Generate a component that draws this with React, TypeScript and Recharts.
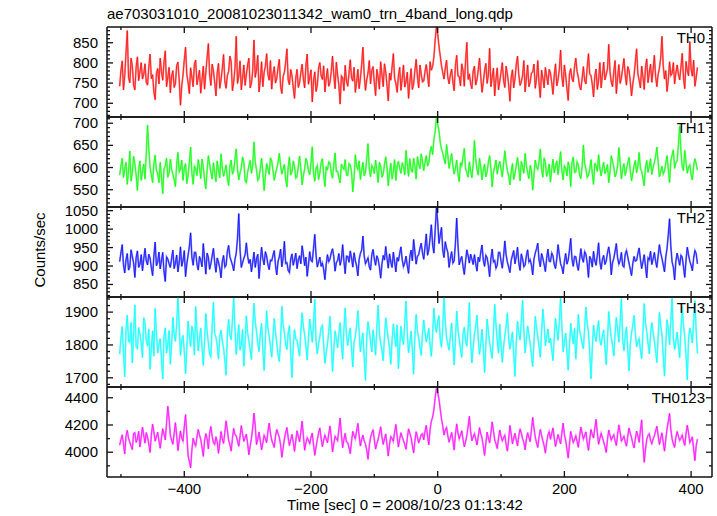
import React from 'react'
import { LineChart, Line, XAxis, YAxis } from 'recharts'

// light curve bins: 2 s each, first bin at -502 s
const T_START = -502
const T_BIN = 2

const th0 = [
  742, 781, 805, 733, 768, 826, 880, 764, 751, 812, 792, 745, 733, 790, 815, 756, 778, 801, 760, 772,
  798, 752, 745, 790, 822, 761, 771, 728, 709, 774, 786, 748, 812, 779, 757, 803, 830, 741, 764, 789,
  726, 768, 781, 739, 748, 794, 802, 757, 695, 743, 770, 808, 839, 771, 752, 724, 788, 765, 741, 798,
  807, 746, 763, 782, 725, 759, 792, 735, 776, 813, 848, 770, 744, 797, 781, 752, 718, 776, 799, 737,
  758, 786, 821, 754, 737, 769, 779, 817, 803, 731, 752, 788, 866, 749, 767, 805, 733, 762, 795, 744,
  771, 795, 812, 738, 749, 780, 857, 764, 784, 819, 728, 757, 803, 741, 776, 792, 823, 771, 757, 806,
  735, 772, 791, 750, 762, 788, 809, 741, 724, 766, 777, 801, 835, 758, 746, 784, 769, 738, 712, 763,
  784, 739, 751, 776, 797, 760, 738, 794, 822, 747, 764, 783, 703, 755, 778, 729, 745, 787, 801, 768,
  759, 793, 728, 761, 786, 742, 752, 779, 817, 770, 736, 802, 771, 745, 698, 768, 763, 731, 794, 756,
  742, 774, 808, 763, 755, 789, 727, 752, 784, 736, 761, 796, 839, 770, 732, 758, 775, 806, 748, 781,
  791, 750, 719, 784, 764, 735, 803, 771, 741, 798, 778, 744, 706, 775, 757, 790, 823, 762, 749, 727,
  768, 789, 732, 761, 795, 740, 754, 777, 712, 752, 786, 734, 747, 781, 809, 766, 738, 795, 772, 753,
  755, 779, 796, 768, 741, 803, 782, 791, 814, 857, 889, 872, 842, 818, 793, 776, 760, 788, 807, 764,
  748, 771, 785, 752, 731, 794, 819, 768, 766, 743, 798, 781, 742, 805, 851, 759, 773, 748, 736, 780,
  792, 745, 758, 783, 812, 766, 727, 752, 781, 799, 749, 770, 836, 741, 764, 787, 718, 760, 788, 733,
  754, 778, 801, 757, 739, 792, 772, 746, 705, 763, 783, 738, 760, 796, 817, 771, 744, 753, 769, 806,
  728, 763, 795, 741, 752, 775, 778, 797, 737, 760, 806, 749, 714, 782, 763, 738, 789, 767, 746, 784,
  775, 751, 722, 769, 798, 743, 758, 784, 832, 766, 741, 795, 770, 736, 707, 772, 786, 761, 753, 790,
  812, 779, 764, 741, 733, 762, 791, 756, 748, 788, 823, 772, 769, 747, 716, 768, 785, 734, 757, 801,
  738, 769, 802, 758, 771, 785, 846, 779, 752, 741, 779, 806, 724, 763, 796, 749, 763, 787, 811, 770,
  745, 791, 782, 754, 718, 748, 769, 803, 835, 773, 757, 738, 792, 766, 734, 789, 810, 751, 776, 797,
  752, 783, 819, 766, 741, 772, 787, 812, 866, 794, 760, 781, 729, 757, 803, 769, 774, 801, 748, 775,
  795, 771, 758, 790, 824, 762, 736, 804, 781, 768, 853, 785, 767, 807, 742, 763, 789,
]

const th1 = [
  583, 604, 621, 577, 598, 612, 562, 591, 637, 569, 589, 625, 608, 583, 548, 597, 615, 571, 592, 608,
  574, 631, 696, 642, 601, 583, 566, 609, 628, 594, 587, 566, 612, 578, 541, 598, 603, 621, 578, 587,
  619, 596, 585, 573, 557, 608, 634, 590, 596, 617, 571, 599, 609, 564, 583, 612, 646, 587, 562, 603,
  597, 582, 618, 600, 575, 619, 603, 571, 552, 594, 627, 608, 589, 574, 611, 589, 568, 615, 594, 577,
  631, 601, 580, 592, 606, 576, 559, 604, 617, 585, 593, 619, 642, 597, 572, 588, 599, 624, 613, 570,
  566, 589, 604, 616, 587, 603, 658, 612, 595, 571, 576, 598, 621, 590, 548, 579, 609, 596, 584, 622,
  615, 593, 571, 586, 598, 611, 632, 605, 585, 597, 607, 574, 556, 601, 624, 583, 590, 615, 602, 576,
  579, 603, 626, 598, 561, 582, 597, 621, 613, 592, 584, 610, 647, 588, 569, 599, 605, 573, 588, 611,
  620, 584, 557, 602, 594, 613, 611, 587, 576, 606, 633, 591, 592, 577, 565, 608, 601, 596, 618, 583,
  582, 609, 606, 590, 545, 577, 629, 603, 596, 615, 573, 594, 612, 581, 588, 620, 654, 597, 579, 605,
  599, 586, 617, 595, 566, 612, 603, 578, 585, 607, 624, 600, 559, 589, 610, 574, 592, 618, 571, 603,
  614, 598, 587, 611, 602, 583, 639, 606, 580, 620, 596, 589, 621, 604, 574, 625, 608, 597, 631, 614,
  593, 612, 627, 603, 611, 636, 648, 629, 663, 681, 712, 698, 684, 657, 641, 633, 619, 608, 652, 627,
  598, 615, 632, 604, 585, 599, 617, 586, 568, 611, 604, 624, 643, 597, 589, 578, 613, 592, 577, 606,
  661, 620, 596, 583, 621, 601, 572, 594, 608, 579, 590, 612, 627, 598, 556, 589, 602, 617, 585, 603,
  614, 597, 579, 608, 638, 611, 594, 582, 561, 590, 609, 573, 586, 605, 623, 599, 570, 614, 601, 587,
  632, 604, 588, 575, 605, 593, 549, 584, 617, 601, 596, 613, 642, 596, 578, 622, 611, 580, 591, 608,
  567, 596, 619, 588, 603, 615, 584, 607, 636, 593, 572, 604, 598, 581, 613, 600, 557, 611, 624, 589,
  590, 613, 606, 583, 575, 602, 651, 609, 597, 578, 583, 596, 618, 587, 562, 610, 604, 591, 629, 599,
  581, 598, 612, 586, 594, 607, 566, 590, 627, 614, 601, 579, 587, 603, 645, 611, 574, 596, 609, 582,
  596, 610, 623, 594, 570, 587, 605, 616, 588, 603, 634, 598, 591, 575, 559, 601, 616, 589, 602, 620,
  584, 600, 611, 625, 646, 612, 579, 590, 603, 585, 592, 609, 627, 597, 566, 614, 628, 640, 598, 611,
  615, 652, 694, 637, 601, 593, 639, 612, 587, 601, 606, 584, 572, 603, 620, 609, 594,
]

const th2 = [
  912, 936, 958, 903, 881, 917, 934, 889, 897, 944, 926, 908, 869, 923, 941, 896, 905, 931, 887, 918,
  948, 914, 903, 932, 921, 895, 874, 927, 965, 901, 910, 938, 892, 915, 937, 884, 858, 925, 919, 906,
  896, 921, 943, 893, 908, 930, 884, 911, 952, 899, 915, 942, 871, 906, 929, 953, 990, 924, 902, 937,
  937, 905, 889, 926, 916, 898, 961, 919, 878, 935, 924, 891, 906, 928, 948, 910, 883, 922, 911, 894,
  868, 913, 929, 897, 902, 940, 956, 925, 914, 903, 887, 918, 935, 976, 1042, 944, 896, 909, 921, 931,
  963, 927, 907, 918, 884, 909, 938, 896, 919, 932, 866, 912, 951, 920, 903, 939, 927, 904, 890, 916,
  914, 929, 942, 901, 876, 913, 925, 946, 898, 921, 967, 907, 909, 888, 882, 919, 933, 902, 917, 935,
  893, 917, 928, 906, 955, 931, 901, 924, 872, 903, 939, 915, 912, 948, 986, 929, 897, 911, 924, 899,
  908, 891, 863, 904, 931, 912, 919, 936, 947, 925, 886, 909, 915, 934, 902, 918, 958, 913, 879, 927,
  926, 910, 941, 922, 897, 936, 915, 900, 873, 918, 934, 943, 981, 927, 906, 914, 922, 898, 889, 931,
  945, 919, 902, 928, 918, 897, 867, 905, 929, 916, 953, 921, 894, 933, 911, 896, 938, 912, 884, 923,
  913, 934, 952, 917, 898, 908, 927, 901, 880, 925, 943, 914, 972, 939, 905, 926, 931, 948, 962, 935,
  918, 952, 987, 929, 944, 976, 1012, 958, 935, 996, 1058, 1021, 961, 983, 1005, 942, 923, 966, 948, 937,
  896, 921, 939, 908, 914, 962, 1030, 957, 903, 917, 926, 899, 877, 913, 944, 928, 908, 932, 919, 904,
  931, 907, 886, 924, 912, 938, 957, 916, 899, 929, 923, 901, 871, 920, 946, 911, 915, 894, 902, 937,
  937, 913, 894, 926, 968, 930, 911, 897, 882, 915, 929, 942, 906, 925, 951, 909, 888, 933, 920, 898,
  903, 928, 944, 911, 917, 902, 876, 919, 935, 947, 962, 916, 898, 934, 921, 904, 885, 921, 946, 913,
  912, 935, 927, 904, 893, 920, 958, 931, 906, 897, 879, 912, 934, 905, 916, 943, 975, 918, 899, 926,
  925, 903, 888, 917, 947, 921, 910, 939, 932, 908, 869, 926, 918, 897, 940, 914, 902, 930, 963, 911,
  891, 918, 929, 904, 913, 936, 952, 927, 876, 909, 921, 940, 961, 922, 905, 915, 937, 901, 897, 932,
  942, 925, 908, 891, 874, 907, 926, 913, 915, 934, 949, 918, 893, 911, 931, 899, 868, 922, 917, 940,
  904, 919, 937, 912, 896, 928, 958, 935, 921, 903, 884, 924, 947, 985, 1028, 954, 911, 897, 862, 914,
  935, 918, 902, 929, 924, 897, 869, 916, 951, 930, 913, 902, 887, 921, 942, 934, 906,
]

const th3 = [
  1772, 1821, 1856, 1778, 1703, 1847, 1891, 1812, 1808, 1869, 1745, 1836, 1922, 1794, 1789, 1853, 1834, 1806, 1761, 1883,
  1868, 1814, 1797, 1849, 1726, 1792, 1843, 1766, 1911, 1838, 1775, 1801, 1819, 1757, 1696, 1827, 1852, 1775, 1802, 1844,
  1741, 1803, 1884, 1832, 1811, 1864, 1946, 1858, 1768, 1815, 1829, 1781, 1712, 1790, 1873, 1826, 1795, 1857, 1838, 1769,
  1917, 1845, 1782, 1820, 1851, 1793, 1738, 1809, 1896, 1842, 1806, 1771, 1764, 1860, 1931, 1835, 1823, 1798, 1757, 1826,
  1845, 1812, 1790, 1753, 1708, 1834, 1878, 1829, 1816, 1876, 1943, 1851, 1771, 1818, 1862, 1784, 1799, 1847, 1735, 1808,
  1889, 1837, 1812, 1785, 1756, 1853, 1927, 1870, 1841, 1806, 1780, 1832, 1866, 1789, 1722, 1818, 1904, 1852, 1827, 1796,
  1763, 1824, 1881, 1840, 1804, 1771, 1749, 1816, 1918, 1861, 1836, 1803, 1786, 1835, 1859, 1774, 1701, 1798, 1847, 1817,
  1815, 1790, 1766, 1843, 1898, 1856, 1831, 1797, 1754, 1822, 1879, 1846, 1808, 1867, 1939, 1810, 1773, 1804, 1825, 1853,
  1860, 1801, 1744, 1776, 1802, 1839, 1887, 1813, 1719, 1785, 1843, 1820, 1791, 1834, 1868, 1806, 1757, 1848, 1913, 1829,
  1798, 1830, 1852, 1788, 1733, 1809, 1826, 1858, 1905, 1841, 1779, 1814, 1837, 1762, 1692, 1819, 1871, 1845, 1810, 1779,
  1846, 1812, 1769, 1857, 1921, 1836, 1805, 1783, 1752, 1825, 1883, 1849, 1818, 1792, 1741, 1816, 1864, 1827, 1795, 1861,
  1728, 1795, 1857, 1819, 1801, 1866, 1934, 1838, 1776, 1807, 1842, 1785, 1711, 1826, 1893, 1843, 1822, 1791, 1768, 1834,
  1876, 1840, 1809, 1827, 1851, 1798, 1765, 1832, 1912, 1860, 1838, 1871, 1889, 1817, 1793, 1854, 1947, 1869, 1821, 1803,
  1784, 1828, 1867, 1802, 1739, 1815, 1903, 1846, 1817, 1788, 1762, 1833, 1854, 1812, 1796, 1851, 1929, 1809, 1745, 1792,
  1833, 1857, 1891, 1819, 1771, 1804, 1848, 1790, 1716, 1798, 1879, 1842, 1806, 1781, 1759, 1836, 1924, 1862, 1812, 1775,
  1863, 1801, 1747, 1794, 1829, 1856, 1898, 1821, 1787, 1813, 1840, 1772, 1704, 1808, 1872, 1839, 1815, 1873, 1936, 1845,
  1776, 1817, 1858, 1831, 1803, 1770, 1734, 1809, 1887, 1853, 1825, 1796, 1762, 1838, 1909, 1864, 1797, 1822, 1849, 1806,
  1821, 1786, 1752, 1824, 1881, 1847, 1814, 1869, 1943, 1860, 1779, 1808, 1836, 1782, 1723, 1799, 1866, 1833, 1804, 1851,
  1757, 1818, 1893, 1844, 1826, 1803, 1788, 1852, 1915, 1866, 1839, 1775, 1697, 1789, 1861, 1828, 1810, 1845, 1874, 1813,
  1799, 1827, 1846, 1793, 1740, 1816, 1902, 1855, 1823, 1797, 1766, 1834, 1884, 1846, 1808, 1871, 1941, 1815, 1782, 1829,
  1855, 1787, 1721, 1802, 1837, 1859, 1890, 1836, 1794, 1811, 1819, 1784, 1758, 1843, 1926, 1868, 1841, 1806, 1773, 1832,
  1868, 1839, 1812, 1781, 1746, 1825, 1899, 1862, 1831, 1769, 1705, 1798, 1877, 1850, 1801, 1874, 1944, 1820, 1786, 1811,
  1839, 1796, 1761, 1848, 1917, 1862, 1824, 1770, 1693, 1819, 1852, 1835, 1806, 1871, 1935, 1843, 1774,
]

const th0123 = [
  4052, 4093, 4128, 4061, 3987, 4117, 4161, 4102, 4074, 4045, 4019, 4138, 4143, 4072, 4096, 4154, 4038, 4109, 4185, 4126,
  4067, 4144, 4112, 4059, 3998, 4128, 4206, 4150, 4081, 4113, 4147, 4084, 4029, 4105, 4173, 4132, 4091, 4215, 4338, 4247,
  4124, 4088, 4058, 4139, 4217, 4121, 4011, 4090, 4156, 4103, 4082, 4187, 4276, 4134, 3974, 3932, 3885, 4016, 4103, 4067,
  4046, 4112, 4168, 4127, 4093, 4036, 3969, 4084, 4137, 4099, 4025, 4141, 4189, 4118, 4071, 4057, 4114, 4076, 3992, 4066,
  4152, 4098, 4064, 4146, 4231, 4163, 4087, 4055, 4008, 4101, 4175, 4129, 4119, 4082, 4043, 4116, 4196, 4135, 4079, 4108,
  4133, 4062, 3981, 4047, 4102, 4178, 4288, 4196, 4056, 4094, 4149, 4083, 4017, 4067, 4124, 4101, 4070, 4152, 4213, 4139,
  4089, 4063, 4035, 4118, 4167, 4137, 4110, 4054, 3962, 4031, 4097, 4142, 4182, 4106, 4048, 4092, 4131, 4074, 4006, 4085,
  4158, 4115, 4076, 4149, 4229, 4122, 4014, 4068, 4106, 4087, 4063, 4110, 4141, 4055, 3977, 4039, 4092, 4143, 4178, 4102,
  4041, 4088, 4125, 4096, 4069, 4134, 4193, 4107, 4002, 4061, 4117, 4099, 4085, 4168, 4251, 4131, 4033, 4094, 4139, 4076,
  4071, 4034, 3989, 4079, 4154, 4121, 4098, 4157, 4212, 4119, 4045, 4093, 4126, 4082, 4061, 4015, 3948, 4047, 4108, 4140,
  4166, 4091, 4023, 4064, 4093, 4139, 4187, 4112, 4057, 4098, 4134, 4053, 3972, 4060, 4115, 4101, 4079, 4146, 4204, 4117,
  4038, 4096, 4143, 4112, 4086, 4054, 4021, 4103, 4172, 4139, 4108, 4048, 3995, 4081, 4151, 4115, 4067, 4098, 4129, 4137,
  4091, 4152, 4198, 4119, 4054, 4168, 4227, 4259, 4311, 4402, 4468, 4441, 4389, 4317, 4245, 4193, 4126, 4164, 4182, 4121,
  4073, 4109, 4145, 4088, 4016, 4131, 4209, 4142, 4097, 4126, 4158, 4094, 4039, 4077, 4122, 4189, 4264, 4153, 4085, 4112,
  4136, 4097, 4052, 4114, 4181, 4135, 4104, 4043, 3976, 4066, 4148, 4105, 4069, 4139, 4223, 4158, 4091, 4062, 4027, 4101,
  4163, 4118, 4084, 4106, 4125, 4057, 4008, 4092, 4197, 4134, 4061, 4102, 4139, 4087, 4046, 4121, 4172, 4140, 4099, 4073,
  4018, 4095, 4144, 4108, 4077, 4162, 4256, 4178, 4111, 4069, 4035, 4113, 4168, 4124, 4083, 4049, 3993, 4072, 4127, 4151,
  4095, 4137, 4179, 4103, 4042, 4089, 4131, 4096, 4062, 4141, 4214, 4129, 4088, 4024, 3957, 4058, 4153, 4110, 4071, 4092,
  4121, 4079, 4036, 4117, 4185, 4138, 4097, 4124, 4149, 4070, 4013, 4096, 4167, 4131, 4104, 4176, 4242, 4143, 4058, 4101,
  4139, 4108, 4076, 4041, 3998, 4093, 4163, 4125, 4089, 4112, 4128, 4084, 4049, 4130, 4201, 4147, 4082, 4099, 4117, 4075,
  4044, 4116, 4178, 4139, 4107, 4064, 4031, 4097, 4155, 4120, 4072, 4161, 4238, 4058, 3926, 4017, 4094, 4123, 4136, 4088,
  4062, 4097, 4119, 4158, 4191, 4122, 4056, 4102, 4143, 4074, 4008, 4093, 4171, 4226, 4285, 4167, 4099, 4061, 4035, 4110,
  4152, 4118, 4087, 4104, 4126, 4083, 4049, 4137, 4198, 4142, 4071, 4090, 4113, 4021, 3938, 4046, 4095,
]

const xTicks = [-500, -400, -300, -200, -100, 0, 100, 200, 300, 400]
const th0Ticks = [670, 680, 690, 700, 710, 720, 730, 740, 750, 760, 770, 780, 790, 800, 810, 820, 830, 840, 850, 860, 870, 880]
const th1Ticks = [520, 530, 540, 550, 560, 570, 580, 590, 600, 610, 620, 630, 640, 650, 660, 670, 680, 690, 700, 710]
const th2Ticks = [820, 830, 840, 850, 860, 870, 880, 890, 900, 910, 920, 930, 940, 950, 960, 970, 980, 990, 1000, 1010, 1020, 1030, 1040, 1050]
const th3Ticks = [1680, 1700, 1720, 1740, 1760, 1780, 1800, 1820, 1840, 1860, 1880, 1900, 1920, 1940]
const th0123Ticks = [3900, 4000, 4100, 4200, 4300, 4400]

const panels = [
  { name: 'TH0', values: th0, color: '#ff0000', light: '#ff8080', domain: [666, 889], ticks: th0Ticks, major: 50 },
  { name: 'TH1', values: th1, color: '#00ff00', light: '#80ff80', domain: [511, 714], ticks: th1Ticks, major: 50 },
  { name: 'TH2', values: th2, color: '#0000ff', light: '#8080ff', domain: [816, 1060], ticks: th2Ticks, major: 50 },
  { name: 'TH3', values: th3, color: '#00ffff', light: '#80ffff', domain: [1672, 1946], ticks: th3Ticks, major: 100 },
  { name: 'TH0123', values: th0123, color: '#ff00ff', light: '#ff80ff', domain: [3818, 4479], ticks: th0123Ticks, major: 200 },
]

const FONT = '"Liberation Sans", Arial, Helvetica, sans-serif'
const W = 717
const LEFT = 107
const RIGHT = 712
const PANEL_TOP = 27
const PANEL_H = 90
const PAD = 6
const X_DOMAIN = [-522, 433]
const FRAME = '#111'

const fmt = (v: number) => (v < 0 ? '\u2212' + Math.abs(v) : String(v))

function Panel({ p, index }: { p: any; index: number }) {
  const last = index === panels.length - 1
  const data = p.values.map((v: number, i: number) => ({ t: T_START + i * T_BIN, v }))
  const bottomY = PAD + PANEL_H
  const axisH = last ? 30 : 1
  const height = PAD + PANEL_H + axisH + 1

  const xTick = (props: any) => {
    const { x, payload } = props
    const major = payload.value % 200 === 0
    const len = major ? 6 : 3
    return (
      <g>
        <line x1={x} x2={x} y1={PAD} y2={PAD + len} stroke={FRAME} strokeWidth={1.3} />
        <line x1={x} x2={x} y1={bottomY} y2={bottomY - len} stroke={FRAME} strokeWidth={1.3} />
        {last && major && (
          <text x={x} y={bottomY + 17} textAnchor="middle" fontSize={15} fontFamily={FONT} fill="#000">
            {fmt(payload.value)}
          </text>
        )}
      </g>
    )
  }

  const yTick = (props: any) => {
    const { y, payload } = props
    const major = payload.value % p.major === 0
    const len = major ? 6 : 3
    return (
      <g>
        <line x1={LEFT} x2={LEFT + len} y1={y} y2={y} stroke={FRAME} strokeWidth={1.3} />
        <line x1={RIGHT} x2={RIGHT - len} y1={y} y2={y} stroke={FRAME} strokeWidth={1.3} />
        {major && (
          <text x={98} y={y + 5} textAnchor="end" fontSize={15} fontFamily={FONT} fill="#000">
            {payload.value}
          </text>
        )}
      </g>
    )
  }

  return (
    <div style={{ position: 'absolute', left: 0, top: PANEL_TOP + index * PANEL_H - PAD }}>
      <LineChart width={W} height={height} data={data} margin={{ top: PAD - 1, right: 0, bottom: 1, left: 0 }}>
        <XAxis
          xAxisId="top"
          orientation="top"
          type="number"
          dataKey="t"
          domain={X_DOMAIN}
          allowDataOverflow
          ticks={xTicks}
          height={1}
          tick={false}
          tickLine={false}
          axisLine={{ stroke: FRAME, strokeWidth: 1.5 }}
        />
        <XAxis
          xAxisId="bottom"
          type="number"
          dataKey="t"
          domain={X_DOMAIN}
          allowDataOverflow
          ticks={xTicks}
          interval={0}
          height={axisH}
          tick={xTick}
          tickLine={false}
          axisLine={{ stroke: FRAME, strokeWidth: 1.5 }}
        />
        <YAxis
          yAxisId="left"
          type="number"
          domain={p.domain}
          allowDataOverflow
          ticks={p.ticks}
          interval={0}
          width={LEFT}
          tick={yTick}
          tickLine={false}
          axisLine={{ stroke: FRAME, strokeWidth: 1.5 }}
        />
        <YAxis
          yAxisId="right"
          orientation="right"
          type="number"
          domain={p.domain}
          allowDataOverflow
          ticks={p.ticks}
          width={W - RIGHT}
          tick={false}
          tickLine={false}
          axisLine={{ stroke: FRAME, strokeWidth: 1.5 }}
        />
        {/* lighter, wider copy stands in for the error bars */}
        <Line
          xAxisId="bottom"
          yAxisId="left"
          type="linear"
          dataKey="v"
          stroke={p.light}
          strokeWidth={1.8}
          dot={false}
          isAnimationActive={false}
        />
        <Line
          xAxisId="bottom"
          yAxisId="left"
          type="linear"
          dataKey="v"
          stroke={p.color}
          strokeWidth={0.7}
          dot={false}
          isAnimationActive={false}
        />
      </LineChart>
      <div
        style={{
          position: 'absolute',
          right: W - 705,
          top: PAD + 3,
          fontFamily: FONT,
          fontSize: 15,
          lineHeight: '15px',
        }}
      >
        {p.name}
      </div>
    </div>
  )
}

export default function App() {
  return (
    <div style={{ position: 'absolute', left: 0, top: 0, width: W, height: 516, background: '#fff', fontFamily: FONT }}>
      <div style={{ position: 'absolute', left: LEFT, top: 6, fontSize: 15, lineHeight: '15px', whiteSpace: 'nowrap' }}>
        ae703031010_20081023011342_wam0_trn_4band_long.qdp
      </div>
      {panels.map((p, i) => (
        <Panel key={p.name} p={p} index={i} />
      ))}
      <div
        style={{
          position: 'absolute',
          left: 39,
          top: 250,
          fontSize: 15,
          lineHeight: '15px',
          whiteSpace: 'nowrap',
          transform: 'translate(-50%, -50%) rotate(-90deg)',
        }}
      >
        Counts/sec
      </div>
      <div
        style={{
          position: 'absolute',
          left: 405,
          top: 497,
          fontSize: 15,
          lineHeight: '15px',
          whiteSpace: 'nowrap',
          transform: 'translateX(-50%)',
        }}
      >
        Time [sec] 0 = 2008/10/23 01:13:42
      </div>
    </div>
  )
}
